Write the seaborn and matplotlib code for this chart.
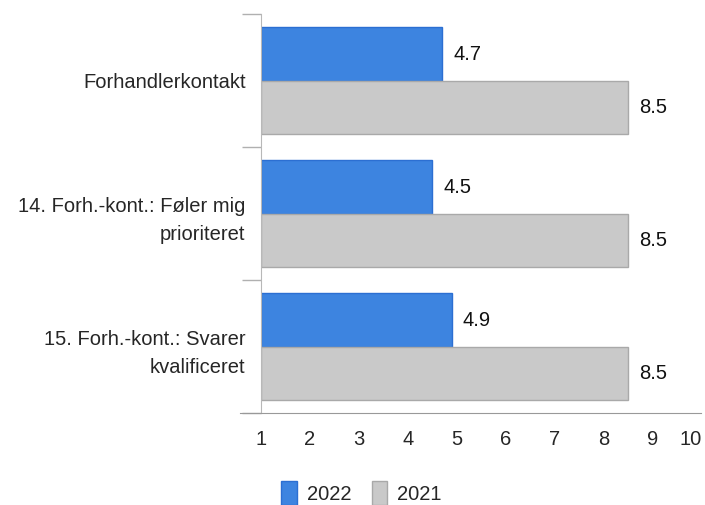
import pandas as pd
import matplotlib
matplotlib.use('Agg')
import matplotlib.pyplot as plt
import seaborn as sns
from matplotlib.patches import Patch

# --- data ---
categories = ['Forhandlerkontakt',
              '14. Forh.-kont.: Føler mig\nprioriteret',
              '15. Forh.-kont.: Svarer\nkvalificeret']
years = ['2022', '2021']
values_2022 = [4.7, 4.5, 4.9]
values_2021 = [8.5, 8.5, 8.5]
x_ticks = [1, 2, 3, 4, 5, 6, 7, 8, 9, 10]

colors = {'2022': '#3d84e0', '2021': '#c9c9c9'}
edges = {'2022': '#2c6fd2', '2021': '#a9a9a9'}

df = pd.DataFrame({
    'kategori': categories * 2,
    'aar': ['2022'] * 3 + ['2021'] * 3,
    'vaerdi': values_2022 + values_2021,
})

sns.set_style('white')
plt.rcParams['font.family'] = ['Liberation Sans', 'DejaVu Sans']
fs = 14.5

fig = plt.figure(figsize=(7.05, 5.05), dpi=100)
ax = fig.add_axes([0.370, 0.182, 0.625, 0.790])

sns.barplot(data=df, y='kategori', x='vaerdi', hue='aar', hue_order=years,
            palette=colors, orient='h', width=0.8, ax=ax, legend=False,
            saturation=1)

# bars start at 1 on the axis
for cont, yr in zip(ax.containers, years):
    for bar in cont:
        w = bar.get_width()
        bar.set_x(1)
        bar.set_width(w - 1)
        bar.set_edgecolor(edges[yr])
        bar.set_linewidth(1.0)
    ax.bar_label(cont, labels=[f'{b.get_x() + b.get_width():.1f}' for b in cont],
                 padding=8, fontsize=fs, color='#111111')

ax.set_xlim(1, 10)
ax.set_ylim(2.5, -0.5)
ax.set_xticks(x_ticks)
ax.set_xlabel('')
ax.set_ylabel('')
ax.tick_params(axis='x', length=0, pad=12, labelsize=fs)
ax.tick_params(axis='y', which='major', length=0, pad=11, labelsize=fs)
ax.set_yticks([-0.5, 0.5, 1.5, 2.5], minor=True)
ax.tick_params(axis='y', which='minor', left=True, length=14, width=1,
               color='#b0b0b0', direction='out')
for t in ax.get_yticklabels():
    t.set_linespacing(1.6)
ax.get_xticklabels()[-1].set_horizontalalignment('right')
ax.get_xticklabels()[-1].set_x(10.02)

for s in ['top', 'right']:
    ax.spines[s].set_visible(False)
ax.spines['left'].set_color('#b8b8b8')
ax.spines['bottom'].set_color('#999999')
ax.spines['bottom'].set_bounds(0.58, 10)

handles = [Patch(facecolor=colors[y], edgecolor=edges[y], label=y) for y in years]
fig.legend(handles=handles, loc='center', bbox_to_anchor=(0.513, 0.024), ncol=2,
           frameon=False, fontsize=fs, handlelength=0.75, handleheight=1.5,
           handletextpad=0.5, columnspacing=1.05)

fig.savefig('out.png', dpi=100)
